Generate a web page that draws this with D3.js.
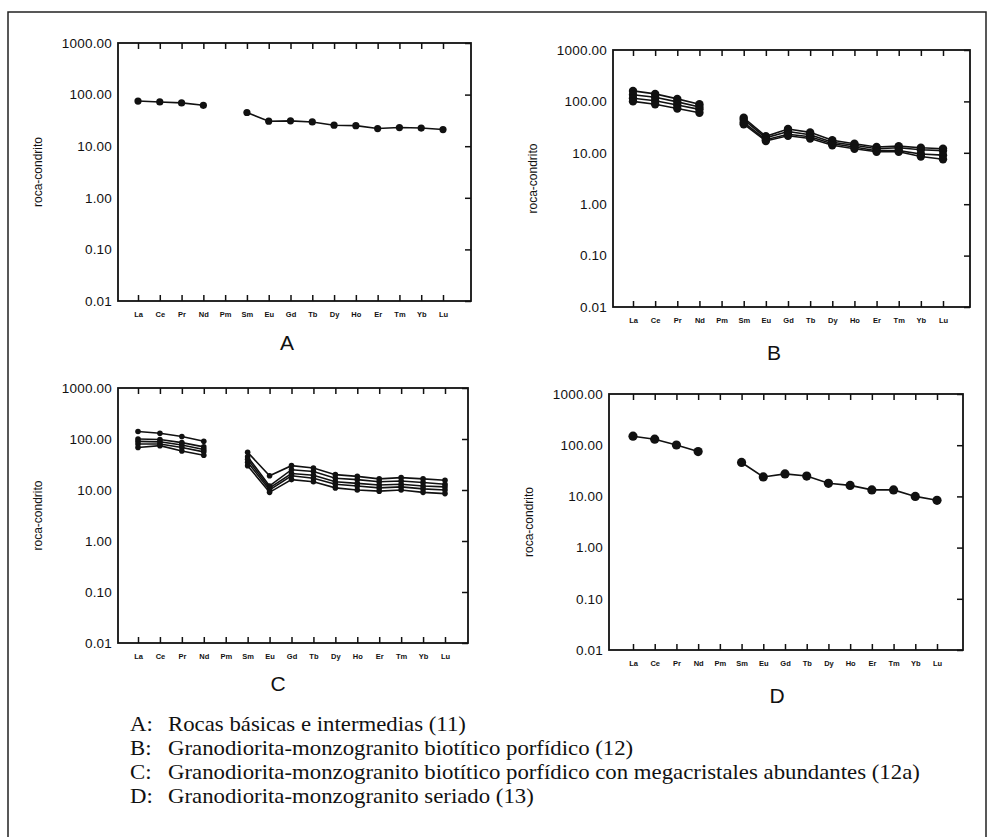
<!DOCTYPE html>
<html><head><meta charset="utf-8">
<script src="https://cdn.jsdelivr.net/npm/d3@7"></script>
<style>body{margin:0;background:#fff}svg{display:block}</style>
</head><body>
<svg id="c" width="989" height="837"></svg>
<script>
const elements = ["La","Ce","Pr","Nd","Pm","Sm","Eu","Gd","Tb","Dy","Ho","Er","Tm","Yb","Lu"];
const yTickValues = [1000, 100, 10, 1, 0.1, 0.01];
const yTickLabels = ["1000.00","100.00","10.00","1.00","0.10","0.01"];
const panelLetters = ["A","B","C","D"];
const yTitle = "roca-condrito";

const seriesA = [
  [75, 72, 69, 62, null, 45, 30.5, 31, 29.5, 25.5, 25, 22, 23, 22.5, 21]
];
const seriesB = [
  [160, 140, 112, 88, null, 48, 21, 29, 25, 17.5, 15, 13, 13.5, 12.5, 12],
  [135, 120, 98, 78, null, 44, 19.5, 26, 22.5, 16, 14, 12, 12.5, 11.5, 11],
  [115, 103, 85, 70, null, 39, 18, 23, 20.5, 15, 13, 11, 11, 9.5, 9],
  [100, 88, 73, 60, null, 36, 17, 21.5, 19, 14, 12, 10.5, 10.5, 8.5, 7.5]
];
const seriesC = [
  [140, 130, 112, 90, null, 55, 19, 30, 27, 20, 18.5, 16.5, 17.5, 16.5, 15.5],
  [100, 98, 85, 70, null, 45, 12, 25, 23, 17, 16, 14.5, 15, 14, 13],
  [90, 88, 76, 62, null, 40, 11, 21, 19.5, 14.5, 13.5, 12.5, 13, 12, 11.5],
  [80, 80, 68, 56, null, 35, 10, 19, 17, 13, 12, 11, 11.5, 10.5, 10],
  [68, 74, 58, 48, null, 30, 9, 16, 14.5, 11, 10, 9.5, 10, 9, 8.5]
];
const seriesD = [
  [150, 131, 101, 75, null, 46, 24, 27.5, 25, 18, 16.4, 13.4, 13.4, 10, 8.4]
];
const legendKeys = ["A:", "B:", "C:", "D:"];
const legendTexts = [
  "Rocas básicas e intermedias (11)",
  "Granodiorita-monzogranito biotítico porfídico (12)",
  "Granodiorita-monzogranito biotítico porfídico con megacristales abundantes (12a)",
  "Granodiorita-monzogranito seriado (13)"
];

const panels = [
  {data: seriesA, left:118, top:43, right:471, bottom:301, x0:138, x1:443, r:3.6, letter:[287,342]},
  {data: seriesB, left:613, top:50, right:970, bottom:307, x0:633, x1:943, r:4.2, letter:[774,352]},
  {data: seriesC, left:118, top:388, right:468, bottom:643, x0:138, x1:445, r:2.8, letter:[278,683]},
  {data: seriesD, left:609, top:394, right:963, bottom:650, x0:633, x1:937, r:4.6, letter:[777,695]}
];

const svg = d3.select("#c");
svg.append("path").attr("d","M8,837 L8,12 L986,12 L986,837")
  .attr("fill","none").attr("stroke","#222").attr("stroke-width",1.5);

panels.forEach((p, pi) => {
  const g = svg.append("g");
  const x = d3.scalePoint().domain(elements).range([p.x0, p.x1]);
  const y = d3.scaleLog().domain([0.01, 1000]).range([p.bottom, p.top]);

  g.append("rect").attr("x",p.left).attr("y",p.top)
    .attr("width",p.right-p.left).attr("height",p.bottom-p.top)
    .attr("fill","none").attr("stroke","#111").attr("stroke-width",1.8);

  const bx = g.append("g").attr("transform",`translate(0,${p.bottom})`)
    .call(d3.axisBottom(x).tickSize(-6).tickPadding(11));
  bx.select(".domain").remove();
  bx.selectAll(".tick line").attr("stroke","#111").attr("stroke-width",1.5);
  bx.selectAll(".tick text").attr("font-family","Arial, 'Liberation Sans', sans-serif")
    .attr("font-size",7.5).attr("font-weight","bold").attr("fill","#111");

  const tx = g.append("g").attr("transform",`translate(0,${p.top})`)
    .call(d3.axisTop(x).tickSize(-6).tickFormat(""));
  tx.select(".domain").remove();
  tx.selectAll(".tick line").attr("stroke","#111").attr("stroke-width",1.5);

  const ly = g.append("g").attr("transform",`translate(${p.left},0)`)
    .call(d3.axisLeft(y).tickValues(yTickValues).tickSize(0).tickPadding(6)
      .tickFormat((d,i) => yTickLabels[i]));
  ly.select(".domain").remove();
  ly.selectAll(".tick text").attr("font-family","Arial, 'Liberation Sans', sans-serif")
    .attr("font-size",13.5).attr("letter-spacing","0.2px").attr("fill","#111");

  const ry = g.append("g").attr("transform",`translate(${p.right},0)`)
    .call(d3.axisRight(y).tickValues(yTickValues).tickSize(-6).tickFormat(""));
  ry.select(".domain").remove();
  ry.selectAll(".tick line").attr("stroke","#111").attr("stroke-width",1.5);

  g.append("text")
    .attr("transform",`translate(${p.left-80},${(p.top+p.bottom)/2}) rotate(-90)`)
    .attr("text-anchor","middle").attr("dominant-baseline","central")
    .attr("font-family","Arial, 'Liberation Sans', sans-serif").attr("font-size",12)
    .attr("fill","#111").text(yTitle);

  const line = d3.line()
    .defined(d => d != null)
    .x((d,i) => x(elements[i]))
    .y(d => y(d));
  p.data.forEach(s => {
    g.append("path").datum(s).attr("d", line)
      .attr("fill","none").attr("stroke","#111").attr("stroke-width",1.6);
    g.selectAll(null).data(s.map((v,i)=>({v,i})).filter(d=>d.v!=null))
      .join("circle")
      .attr("cx", d => x(elements[d.i])).attr("cy", d => y(d.v))
      .attr("r", p.r).attr("fill","#111");
  });

  g.append("text").attr("x",p.letter[0]).attr("y",p.letter[1])
    .attr("text-anchor","middle").attr("dominant-baseline","central")
    .attr("font-family","Arial, 'Liberation Sans', sans-serif").attr("font-size",21)
    .attr("fill","#111").text(panelLetters[pi]);
});

const lg = svg.append("g");
legendTexts.forEach((t, i) => {
  const yy = 731 + i*24;
  lg.append("text").attr("transform",`translate(130,${yy}) scale(1.14,1)`)
    .attr("font-family","'Liberation Serif','Times New Roman',serif").attr("font-size",20)
    .attr("fill","#111").text(legendKeys[i]);
  lg.append("text").attr("transform",`translate(168,${yy}) scale(1.14,1)`)
    .attr("font-family","'Liberation Serif','Times New Roman',serif").attr("font-size",20)
    .attr("fill","#111").text(t);
});
</script>
</body></html>
